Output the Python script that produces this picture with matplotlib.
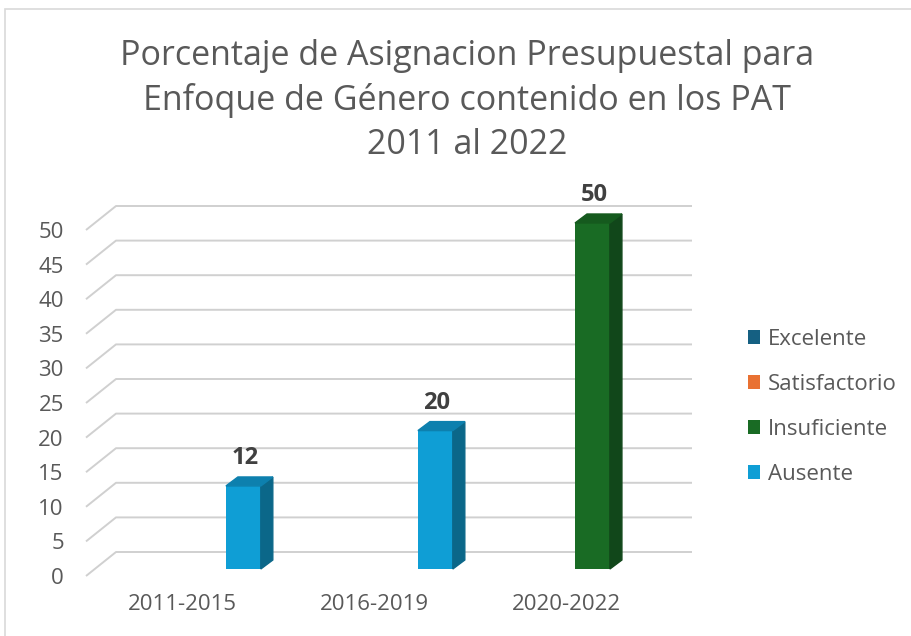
import numpy as np
import matplotlib.pyplot as plt
from matplotlib.patches import Polygon, Patch, Rectangle
from matplotlib.transforms import ScaledTranslation

plt.rcParams['font.family'] = ['Open Sans', 'DejaVu Sans']

# Data
categories = ["2011-2015", "2016-2019", "2020-2022"]
series_names = ["Excelente", "Satisfactorio", "Insuficiente", "Ausente"]
excelente = [0, 0, 0]
satisfactorio = [0, 0, 0]
insuficiente = [0, 0, 50]
ausente = [12, 20, 0]
y_ticks = list(range(0, 55, 5))

# Colours: front face, top face, side face
front_colors = ["#156082", "#E97132", "#196B24", "#0F9ED5"]
top_colors = ["#124F6B", "#C45E28", "#155A1E", "#0D80AE"]
side_colors = ["#0E4159", "#A04C20", "#11471A", "#0B6789"]

TEXT = "#595959"
GRID = "#d0d0d0"

# Figure geometry (pixels)
W, H, DPI = 911, 636, 100
fig = plt.figure(figsize=(W / DPI, H / DPI), dpi=DPI)

def fx(px):
    return px / W

def fy(px):
    return 1 - px / H

# plot area = plane where the bars stand
left, right, top, bottom = 95, 671, 223, 569
ax = fig.add_axes([fx(left), fy(bottom), (right - left) / W, (bottom - top) / H])
ax.set_xlim(-0.5, 2.5)
ax.set_ylim(0, 50)
for s in ax.spines.values():
    s.set_visible(False)

cat_px = (right - left) / 3
val_px = (bottom - top) / 50

def shift(dx_px, dy_px):
    # image-pixel offset -> data units (dy_px positive = down)
    return dx_px / cat_px, -dy_px / val_px

front = shift(-9, 7)
back = shift(21, -17)
depth = shift(12, -9)

# walls / gridlines
for v in y_ticks:
    xs = [-0.5 + front[0], -0.5 + back[0], 2.5 + back[0]]
    ys = [v + front[1], v + back[1], v + back[1]]
    ax.plot(xs, ys, color=GRID, lw=1.4, clip_on=False, zorder=1,
            solid_capstyle='butt')

# bars
slot = 1 / 5.5
x = np.arange(len(categories))
all_series = [excelente, satisfactorio, insuficiente, ausente]
for i, vals in enumerate(all_series):
    vals = np.array(vals)
    pos = x + (i - 1.5) * slot
    m = vals > 0
    ax.bar(pos[m], vals[m], width=slot, color=front_colors[i], zorder=3)
    for p, v in zip(pos[m], vals[m]):
        x0, x1 = p - slot / 2, p + slot / 2
        side = [(x1, 0), (x1, v), (x1 + depth[0], v + depth[1]), (x1 + depth[0], depth[1])]
        topf = [(x0, v), (x1, v), (x1 + depth[0], v + depth[1]), (x0 + depth[0], v + depth[1])]
        ax.add_patch(Polygon(side, closed=True, color=side_colors[i], zorder=3, clip_on=False))
        ax.add_patch(Polygon(topf, closed=True, color=top_colors[i], zorder=3, clip_on=False))
        ax.annotate(f"{v}", (p, v), xytext=(1, 20), textcoords='offset points',
                    ha='center', va='center', fontsize=17, fontweight='bold',
                    color="#404040", annotation_clip=False)

# ticks drawn on the front plane
ax.set_xticks(x)
ax.set_xticklabels(categories)
ax.set_yticks(y_ticks)
ax.tick_params(length=0, labelsize=16, labelcolor=TEXT)
ax.tick_params(axis='x', pad=13)
ax.tick_params(axis='y', pad=16)
off = ScaledTranslation(-9 / DPI, -7 / DPI, fig.dpi_scale_trans)
for lbl in ax.get_xticklabels() + ax.get_yticklabels():
    lbl.set_transform(lbl.get_transform() + off)

# title
fig.text(fx(467), fy(39),
         "Porcentaje de Asignacion Presupuestal para\nEnfoque de Género contenido en los PAT\n2011 al 2022",
         ha='center', va='top', fontsize=24.5, color=TEXT, linespacing=1.37)

# legend
handles = [Patch(facecolor=c, edgecolor='none') for c in front_colors]
fig.legend(handles, series_names, loc='center left',
           bbox_to_anchor=(fx(748), fy(407)), frameon=False, fontsize=16,
           labelcolor=TEXT, handlelength=0.55, handleheight=0.55,
           handletextpad=0.35, labelspacing=1.08, borderpad=0, borderaxespad=0)

# chart border
fig.patches.append(Rectangle((fx(5), -0.1), 2, fy(9) + 0.1, transform=fig.transFigure,
                             fill=False, edgecolor="#d9d9d9", lw=1.2))

fig.savefig("out.png", dpi=DPI)
